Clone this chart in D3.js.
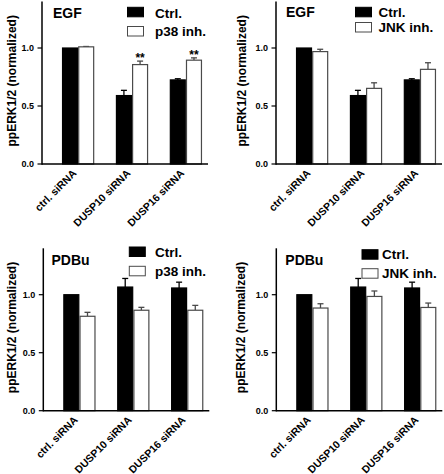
<!DOCTYPE html>
<html>
<head>
<meta charset="utf-8">
<script src="https://cdn.jsdelivr.net/npm/d3@7"></script>
<style>
  html, body { margin: 0; padding: 0; background: #fff; }
  svg { display: block; }
  text { font-family: "Liberation Sans", Arial, Helvetica, sans-serif; font-weight: bold; fill: #000; }
</style>
</head>
<body>
<svg id="chart" width="444" height="474"></svg>
<script>
// ---- data ----
const categories = ["ctrl. siRNA", "DUSP10 siRNA", "DUSP16 siRNA"];
const yTicks = [0.0, 0.5, 1.0];
const yTickLabels = ["0.0", "0.5", "1.0"];
const yLabel = "ppERK1/2 (normalized)";
const seriesCtrlName = "Ctrl.";

const egfCtrl = [1.0, 0.59, 0.725];
const egfCtrlErr = [0, 0.045, 0.01];
const egfP38 = [1.01, 0.857, 0.895];
const egfP38Err = [0.003, 0.03, 0.02];
const egfP38Sig = ["", "**", "**"];
const egfJnk = [0.969, 0.652, 0.816];
const egfJnkErr = [0.02, 0.048, 0.057];

const pdbuCtrl = [1.0, 1.066, 1.058];
const pdbuCtrlErr = [0, 0.074, 0.05];
const pdbuP38 = [0.814, 0.866, 0.866];
const pdbuP38Err = [0.034, 0.025, 0.042];
const pdbuJnk = [0.885, 0.985, 0.89];
const pdbuJnkErr = [0.037, 0.047, 0.038];

const panels = [
  { title: "EGF", inhName: "p38 inh.", ctrl: egfCtrl, ctrlErr: egfCtrlErr, inh: egfP38, inhErr: egfP38Err, sig: egfP38Sig,
    ax: 42, yb: 164, labelX: 11, titleX: 53, titleY: 17.5, legX: 127.5, legY: [7.3, 26.5], legTX: 155, legTY: [17.5, 36] },
  { title: "EGF", inhName: "JNK inh.", ctrl: egfCtrl, ctrlErr: egfCtrlErr, inh: egfJnk, inhErr: egfJnkErr, sig: null,
    ax: 276, yb: 164, labelX: 241, titleX: 286, titleY: 17.3, legX: 355.5, legY: [7.3, 22.5], legTX: 378.5, legTY: [17, 32] },
  { title: "PDBu", inhName: "p38 inh.", ctrl: pdbuCtrl, ctrlErr: pdbuCtrlErr, inh: pdbuP38, inhErr: pdbuP38Err, sig: null,
    ax: 43.3, yb: 410.7, labelX: 10.5, titleX: 51.5, titleY: 264.5, legX: 129.3, legY: [247, 266.3], legTX: 155, legTY: [256.8, 276] },
  { title: "PDBu", inhName: "JNK inh.", ctrl: pdbuCtrl, ctrlErr: pdbuCtrlErr, inh: pdbuJnk, inhErr: pdbuJnkErr, sig: null,
    ax: 276.3, yb: 410.7, labelX: 240, titleX: 285.3, titleY: 264.5, legX: 362, legY: [249.7, 268.7], legTX: 382, legTY: [259.3, 278.3] }
];

const svg = d3.select("#chart");
const yMax = 1.4;
const unit = 116; // px per 1.0

panels.forEach(p => {
  const g = svg.append("g");
  const y = d3.scaleLinear().domain([0, yMax]).range([p.yb, p.yb - yMax * unit]);
  const x = d3.scaleBand().domain(categories).range([p.ax, p.ax + 180]).paddingInner(0.4).paddingOuter(0.37);
  const xs = d3.scaleBand().domain(["ctrl", "inh"]).range([0, x.bandwidth()]);

  // bars
  const groups = g.selectAll("g.grp").data(categories).join("g").attr("class", "grp")
    .attr("transform", d => `translate(${x(d)},0)`);

  groups.each(function(cat, i) {
    const gg = d3.select(this);
    const items = [
      { key: "ctrl", v: p.ctrl[i], e: p.ctrlErr[i], fill: "#000", stroke: "#000" },
      { key: "inh", v: p.inh[i], e: p.inhErr[i], fill: "#fff", stroke: "#4a4a4a" }
    ];
    items.forEach(it => {
      const bx = xs(it.key), bw = xs.bandwidth();
      if (it.e > 0) {
        const cx = bx + bw / 2;
        gg.append("line").attr("x1", cx).attr("x2", cx).attr("y1", y(it.v)).attr("y2", y(it.v + it.e))
          .attr("stroke", it.stroke).attr("stroke-width", 1.3);
        gg.append("line").attr("x1", cx - 3).attr("x2", cx + 3).attr("y1", y(it.v + it.e)).attr("y2", y(it.v + it.e))
          .attr("stroke", it.stroke).attr("stroke-width", 1.3);
      }
      gg.append("rect").attr("x", bx + 0.6).attr("width", bw - 1.2)
        .attr("y", y(it.v)).attr("height", p.yb - y(it.v))
        .attr("fill", it.fill).attr("stroke", it.stroke).attr("stroke-width", 1.2);
    });
    if (p.sig && p.sig[i]) {
      const bx = xs("inh"), bw = xs.bandwidth();
      gg.append("text").attr("x", bx + bw / 2).attr("y", y(p.inh[i] + p.inhErr[i]) + 1)
        .attr("text-anchor", "middle").attr("font-size", 12).text(p.sig[i]);
    }
  });

  // axes
  g.append("line").attr("x1", p.ax).attr("x2", p.ax + 166).attr("y1", p.yb).attr("y2", p.yb)
    .attr("stroke", "#000").attr("stroke-width", 1.5);
  g.append("line").attr("x1", p.ax).attr("x2", p.ax).attr("y1", y(yMax)).attr("y2", p.yb + 0.75)
    .attr("stroke", "#000").attr("stroke-width", 1.5);
  yTicks.forEach((t, k) => {
    g.append("line").attr("x1", p.ax - 4.5).attr("x2", p.ax).attr("y1", y(t)).attr("y2", y(t))
      .attr("stroke", "#000").attr("stroke-width", 1.2);
    g.append("text").attr("x", p.ax - 8).attr("y", y(t)).attr("dy", "0.35em")
      .attr("text-anchor", "end").attr("font-size", 9).text(yTickLabels[k]);
  });

  // x labels
  categories.forEach(c => {
    const cx = x(c) + x.bandwidth() / 2;
    g.append("text").attr("transform", `translate(${cx - 1},${p.yb + 10}) rotate(-45)`)
      .attr("text-anchor", "end").attr("font-size", 10.5).text(c);
  });

  // y label
  const ymid = (y(yMax) + p.yb) / 2 - 2;
  g.append("text").attr("transform", `translate(${p.labelX + 5},${ymid}) rotate(-90)`)
    .attr("text-anchor", "middle").attr("font-size", 12).text(yLabel);

  // title
  g.append("text").attr("x", p.titleX).attr("y", p.titleY).attr("font-size", 14).text(p.title);

  // legend
  [[seriesCtrlName, "#000", "#000"], [p.inhName, "#fff", "#4a4a4a"]].forEach((l, k) => {
    g.append("rect").attr("x", p.legX).attr("y", p.legY[k]).attr("width", 16).attr("height", 9.5)
      .attr("fill", l[1]).attr("stroke", l[2]).attr("stroke-width", 1);
    g.append("text").attr("x", p.legTX).attr("y", p.legTY[k]).attr("font-size", 13.5).text(l[0]);
  });
});
</script>
</body>
</html>
